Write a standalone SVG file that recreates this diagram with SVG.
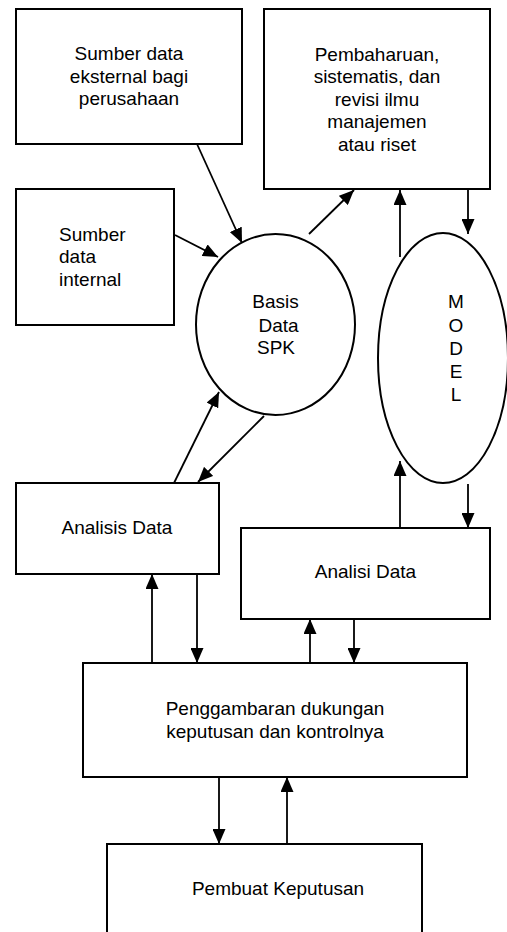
<svg xmlns="http://www.w3.org/2000/svg" width="507" height="932" viewBox="0 0 507 932">
  <style>
    .box { fill: #ffffff; stroke: #000000; stroke-width: 2; }
    .oval { fill: #ffffff; stroke: #000000; stroke-width: 2; }
    .lbl { font-family: "Liberation Sans", Arial, sans-serif; font-size: 19px; fill: #000000; }
    .mid { text-anchor: middle; }
    .link { fill: none; stroke: #000000; stroke-width: 1.8; marker-end: url(#arrow); }
    .plain { fill: none; stroke: #000000; stroke-width: 1.8; }
  </style>
  <defs>
    <marker id="arrow" markerUnits="userSpaceOnUse" markerWidth="15" markerHeight="13" refX="15" refY="6.5" orient="auto">
      <path d="M0,0 L15,6.5 L0,13 z" fill="#000000"/>
    </marker>
  </defs>

  <rect width="507" height="932" fill="#ffffff"/>

  <g id="external-source">
    <rect class="box" x="16" y="9" width="226" height="135"/>
    <text class="lbl mid" x="129" y="60">Sumber data</text>
    <text class="lbl mid" x="129" y="83">eksternal bagi</text>
    <text class="lbl mid" x="129" y="105">perusahaan</text>
  </g>

  <g id="internal-source">
    <rect class="box" x="16" y="189" width="158" height="136"/>
    <text class="lbl" x="59" y="241">Sumber</text>
    <text class="lbl" x="59" y="263">data</text>
    <text class="lbl" x="59" y="286">internal</text>
  </g>

  <g id="research">
    <rect class="box" x="264" y="9" width="226" height="180"/>
    <text class="lbl mid" x="377" y="61">Pembaharuan,</text>
    <text class="lbl mid" x="377" y="83">sistematis, dan</text>
    <text class="lbl mid" x="377" y="106">revisi ilmu</text>
    <text class="lbl mid" x="377" y="128">manajemen</text>
    <text class="lbl mid" x="377" y="151">atau riset</text>
  </g>

  <g id="database">
    <ellipse class="oval" cx="275.5" cy="324.5" rx="79.5" ry="90.5"/>
    <text class="lbl mid" x="275.5" y="308">Basis</text>
    <text class="lbl mid" x="278.5" y="332">Data</text>
    <text class="lbl mid" x="276" y="354">SPK</text>
  </g>

  <g id="model">
    <ellipse class="oval" cx="443" cy="358" rx="65" ry="125"/>
    <text class="lbl mid" x="456" y="308">M</text>
    <text class="lbl mid" x="456" y="332">O</text>
    <text class="lbl mid" x="456" y="355">D</text>
    <text class="lbl mid" x="456" y="378">E</text>
    <text class="lbl mid" x="456" y="401">L</text>
  </g>

  <g id="analysis-left">
    <rect class="box" x="16" y="483" width="203" height="91"/>
    <text class="lbl mid" x="117" y="534">Analisis Data</text>
  </g>

  <g id="analysis-right">
    <rect class="box" x="241" y="528" width="249" height="91"/>
    <text class="lbl mid" x="365.5" y="578">Analisi Data</text>
  </g>

  <g id="decision-support">
    <rect class="box" x="83" y="663" width="384" height="114"/>
    <text class="lbl mid" x="275" y="715">Penggambaran dukungan</text>
    <text class="lbl mid" x="275" y="738">keputusan dan kontrolnya</text>
  </g>

  <g id="decision-maker">
    <rect class="box" x="107" y="844" width="315" height="100"/>
    <text class="lbl mid" x="278" y="895">Pembuat Keputusan</text>
  </g>

  <g id="connectors">
    <!-- sources into the database -->
    <line class="link" x1="197" y1="144" x2="242" y2="243"/>
    <line class="link" x1="175" y1="235" x2="218" y2="257"/>
    <!-- database to research -->
    <line class="link" x1="309" y1="234" x2="354" y2="190"/>
    <!-- research and model -->
    <line class="link" x1="400" y1="257" x2="400" y2="190"/>
    <line class="link" x1="468" y1="189" x2="468" y2="234"/>
    <!-- model and right analysis -->
    <line class="link" x1="400" y1="528" x2="400" y2="461"/>
    <line class="link" x1="468" y1="484" x2="468" y2="528"/>
    <!-- database and left analysis -->
    <line class="link" x1="174" y1="483" x2="219" y2="392"/>
    <line class="link" x1="264" y1="416" x2="198" y2="482"/>
    <!-- left analysis and decision support -->
    <line class="link" x1="152" y1="663" x2="152" y2="574"/>
    <line class="link" x1="197" y1="574" x2="197" y2="663"/>
    <!-- right analysis and decision support -->
    <line class="link" x1="310" y1="663" x2="310" y2="619"/>
    <line class="link" x1="354" y1="619" x2="354" y2="663"/>
    <!-- decision support and decision maker -->
    <line class="link" x1="219" y1="777" x2="219" y2="844"/>
    <line class="link" x1="287" y1="844" x2="287" y2="777"/>
  </g>
</svg>
